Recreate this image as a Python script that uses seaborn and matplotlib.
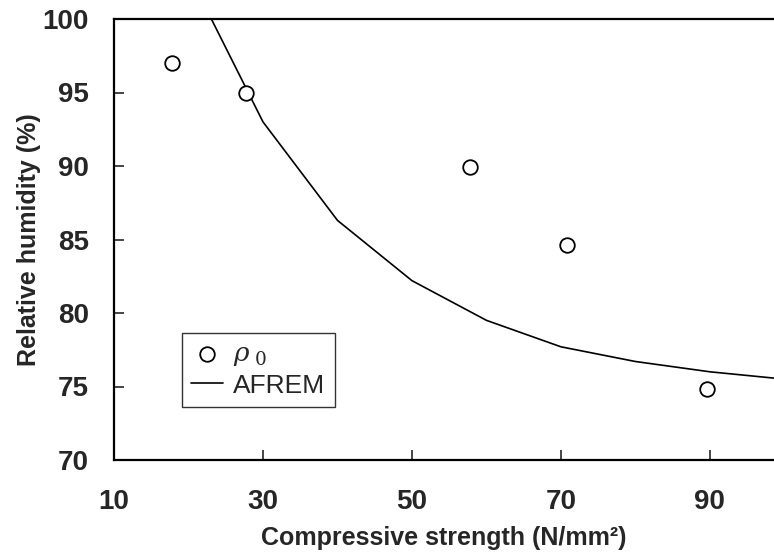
import matplotlib
matplotlib.use("Agg")
import matplotlib.pyplot as plt
import seaborn as sns
import pandas as pd

# Measured points (rho_0)
strength_pts = [17.8, 27.7, 57.8, 70.8, 89.6]
humidity_pts = [97.0, 95.0, 89.9, 84.6, 74.8]

# AFREM model curve
strength_curve = [20, 30, 40, 50, 60, 70, 80, 90, 100]
humidity_curve = [103.1, 93.0, 86.3, 82.2, 79.5, 77.7, 76.7, 76.0, 75.5]

x_ticks = [10, 30, 50, 70, 90]
y_ticks = [70, 75, 80, 85, 90, 95, 100]

sns.set_style("ticks")
plt.rcParams["font.family"] = ["Liberation Sans", "DejaVu Sans"]
plt.rcParams["mathtext.fontset"] = "dejavuserif"

fig = plt.figure(figsize=(7.74, 5.54), dpi=100)
ax = fig.add_axes([114 / 774, 1 - 460 / 554, 1 - 114 / 774, 441 / 554])

pts = pd.DataFrame({"x": strength_pts, "y": humidity_pts})
crv = pd.DataFrame({"x": strength_curve, "y": humidity_curve})

sns.lineplot(data=crv, x="x", y="y", ax=ax, color="black", linewidth=1.2,
             label="AFREM", zorder=2)
sns.scatterplot(data=pts, x="x", y="y", ax=ax, marker="o", s=110,
                facecolor="white", edgecolor="black", linewidth=1.3,
                label=r"$\rho_{\ 0}$", zorder=3)

ax.set_xlim(10, 98.6)
ax.set_ylim(70, 100)
ax.set_xticks(x_ticks)
ax.set_yticks(y_ticks)
ax.tick_params(axis="both", direction="in", length=7, width=1.2,
               labelsize=20)
ax.tick_params(axis="x", pad=21)
ax.tick_params(axis="y", pad=18)
for lab in ax.get_xticklabels() + ax.get_yticklabels():
    lab.set_fontweight("bold")

for side in ["left", "bottom", "top"]:
    ax.spines[side].set_linewidth(1.6)
    ax.spines[side].set_color("black")
ax.spines["right"].set_visible(False)

ax.set_xlabel("Compressive strength (N/mm²)", fontsize=18,
              fontweight="bold", labelpad=8)
ax.set_ylabel("Relative humidity (%)", fontsize=18, fontweight="bold",
              labelpad=1)

handles, labels = ax.get_legend_handles_labels()
order = [1, 0]
leg = ax.legend([handles[i] for i in order], [labels[i] for i in order],
                loc="upper left", bbox_to_anchor=(0.103, 0.288),
                borderaxespad=0, fontsize=19, frameon=True, fancybox=False,
                handlelength=1.2, handletextpad=0.4, borderpad=0.35,
                labelspacing=0.2)
leg.get_frame().set_edgecolor("black")
leg.get_frame().set_linewidth(1.0)

fig.savefig("out.png", dpi=100)
